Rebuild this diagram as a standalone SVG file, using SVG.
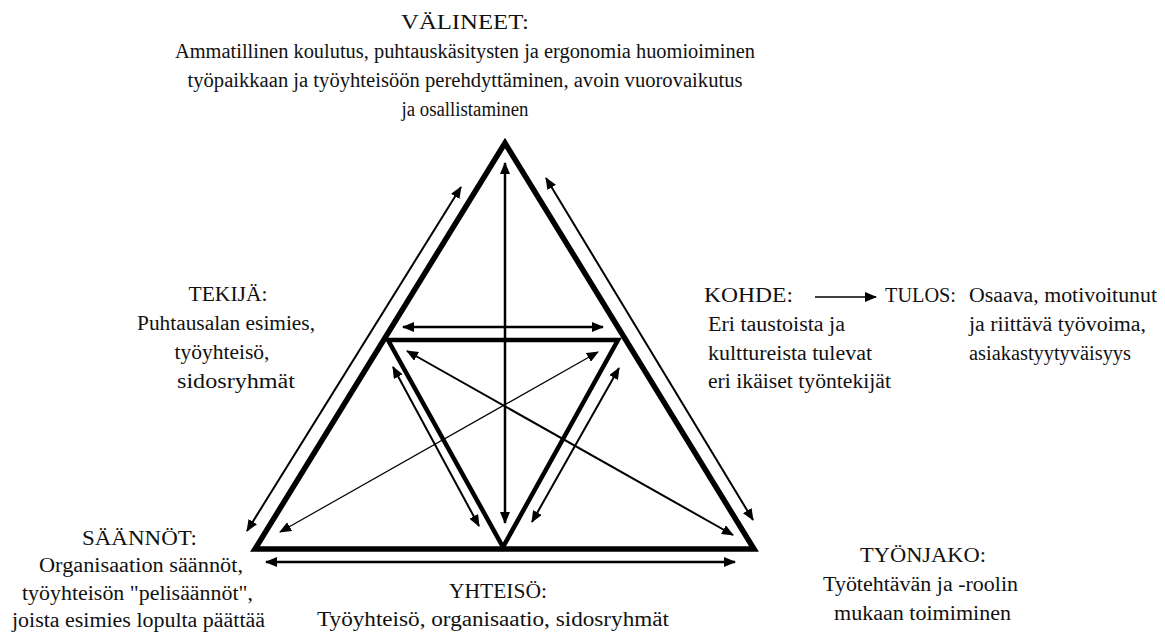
<svg xmlns="http://www.w3.org/2000/svg" width="1165" height="635" viewBox="0 0 1165 635">
<defs>
<marker id="ah" viewBox="0 0 12 10" refX="11" refY="5" markerWidth="12" markerHeight="10" markerUnits="userSpaceOnUse" orient="auto-start-reverse">
<path d="M0,0 L12,5 L0,10 z" fill="#000"/>
</marker>
<style>
.tri{fill:none;stroke:#000;stroke-linejoin:miter;}
.ar{stroke:#000;fill:none;marker-start:url(#ah);marker-end:url(#ah);}
</style>
</defs>
<rect width="1165" height="635" fill="#fff"/>
<g id="outer-triangle"><polygon class="tri" stroke-width="5.5" points="505,143 255,549 754,549"/></g>
<g id="inner-triangle"><polygon class="tri" stroke-width="4.5" points="388,340 618,340 503,547"/></g>
<g id="connectors">
<line class="ar" stroke-width="2.5" x1="505" y1="163" x2="505" y2="523"/>
<line class="ar" stroke-width="2.5" x1="403" y1="327" x2="603" y2="327"/>
<line class="ar" stroke-width="2" x1="461" y1="187" x2="247" y2="531"/>
<line class="ar" stroke-width="2" x1="546" y1="178" x2="753" y2="520"/>
<line class="ar" stroke-width="2.5" x1="266" y1="562" x2="735" y2="562"/>
<line class="ar" stroke-width="2" x1="393" y1="367" x2="479" y2="526"/>
<line class="ar" stroke-width="2" x1="619" y1="368" x2="532" y2="522"/>
<line class="ar" stroke-width="2" x1="407" y1="351" x2="733" y2="535"/>
<line class="ar" stroke-width="1.2" x1="598" y1="352" x2="280" y2="532"/>
<line stroke="#000" stroke-width="1.5" marker-end="url(#ah)" x1="815" y1="297" x2="876" y2="297"/>
</g>
<g id="labels" font-family="Liberation Serif, DejaVu Serif, serif" font-size="20" fill="#111">
<g id="valineet" text-anchor="middle">
<text x="465" y="29" textLength="128" lengthAdjust="spacingAndGlyphs">VÄLINEET:</text>
<text x="465" y="58" textLength="580" lengthAdjust="spacingAndGlyphs">Ammatillinen koulutus, puhtauskäsitysten ja ergonomia huomioiminen</text>
<text x="465" y="87" textLength="555" lengthAdjust="spacingAndGlyphs">työpaikkaan ja työyhteisöön perehdyttäminen, avoin vuorovaikutus</text>
<text x="465" y="116" textLength="127" lengthAdjust="spacingAndGlyphs">ja osallistaminen</text>
</g>
<g id="tekija" text-anchor="middle">
<text x="228" y="301" textLength="79" lengthAdjust="spacingAndGlyphs">TEKIJÄ:</text>
<text x="226" y="330" textLength="178" lengthAdjust="spacingAndGlyphs">Puhtausalan esimies,</text>
<text x="222" y="359" textLength="95" lengthAdjust="spacingAndGlyphs">työyhteisö,</text>
<text x="236" y="388" textLength="118" lengthAdjust="spacingAndGlyphs">sidosryhmät</text>
</g>
<g id="saannot" text-anchor="middle">
<text x="139.5" y="545" textLength="115" lengthAdjust="spacingAndGlyphs">SÄÄNNÖT:</text>
<text x="141" y="572" textLength="204" lengthAdjust="spacingAndGlyphs">Organisaation säännöt,</text>
<text x="137.5" y="600" textLength="231" lengthAdjust="spacingAndGlyphs">työyhteisön "pelisäännöt",</text>
<text x="138.5" y="627" textLength="253" lengthAdjust="spacingAndGlyphs">joista esimies lopulta päättää</text>
</g>
<g id="yhteiso" text-anchor="middle">
<text x="498" y="598" textLength="98" lengthAdjust="spacingAndGlyphs">YHTEISÖ:</text>
<text x="493" y="626" textLength="352" lengthAdjust="spacingAndGlyphs">Työyhteisö, organisaatio, sidosryhmät</text>
</g>
<g id="kohde">
<text x="704" y="302" textLength="89" lengthAdjust="spacingAndGlyphs">KOHDE:</text>
<text x="708" y="331" textLength="137" lengthAdjust="spacingAndGlyphs">Eri taustoista ja</text>
<text x="708" y="360" textLength="164" lengthAdjust="spacingAndGlyphs">kulttureista tulevat</text>
<text x="708" y="388" textLength="183" lengthAdjust="spacingAndGlyphs">eri ikäiset työntekijät</text>
</g>
<g id="tulos">
<text x="885" y="302" textLength="71" lengthAdjust="spacingAndGlyphs">TULOS:</text>
<text x="969" y="302" textLength="188" lengthAdjust="spacingAndGlyphs">Osaava, motivoitunut</text>
<text x="969" y="331" textLength="177" lengthAdjust="spacingAndGlyphs">ja riittävä työvoima,</text>
<text x="969" y="360" textLength="162" lengthAdjust="spacingAndGlyphs">asiakastyytyväisyys</text>
</g>
<g id="tyonjako" text-anchor="middle">
<text x="923" y="562" textLength="126" lengthAdjust="spacingAndGlyphs">TYÖNJAKO:</text>
<text x="920.5" y="591" textLength="195" lengthAdjust="spacingAndGlyphs">Työtehtävän ja -roolin</text>
<text x="922.5" y="620" textLength="177" lengthAdjust="spacingAndGlyphs">mukaan toimiminen</text>
</g>
</g>
</svg>
